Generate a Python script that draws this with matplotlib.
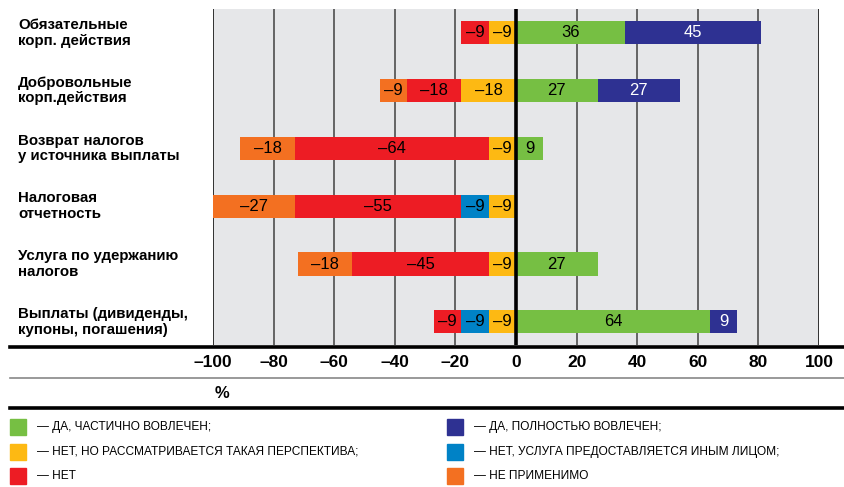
import matplotlib.pyplot as plt
from matplotlib.lines import Line2D
from matplotlib.patches import Rectangle

plt.rcParams['font.family'] = ['Liberation Sans', 'DejaVu Sans']

categories = ['Обязательные\nкорп. действия',
              'Добровольные\nкорп.действия',
              'Возврат налогов\nу источника выплаты',
              'Налоговая\nотчетность',
              'Услуга по удержанию\nналогов',
              'Выплаты (дивиденды,\nкупоны, погашения)']

# negative side, stacked from zero outwards
yes_soon = [-9, -18, -9, -9, -9, -9]      # нет, но рассматривается
other = [0, 0, 0, -9, 0, -9]              # иным лицом
no = [-9, -18, -64, -55, -45, -9]         # нет
n_a = [0, -9, -18, -27, -18, 0]           # не применимо
# positive side
partly = [36, 27, 9, 0, 27, 64]
fully = [45, 27, 0, 0, 0, 9]

xticks = [-100, -80, -60, -40, -20, 0, 20, 40, 60, 80, 100]

c_green = '#76bf43'
c_navy = '#2e3192'
c_yellow = '#fdb913'
c_blue = '#0082c6'
c_red = '#ed1c24'
c_orange = '#f37021'

fig = plt.figure(figsize=(8.44, 4.87), dpi=100)
ax = fig.add_axes([213 / 844, 1 - 345 / 487, 606 / 844, 336 / 487])
ax.set_facecolor('#e6e7e9')

ypos = list(range(len(categories)))
h = 0.4

def stack(series_list, colors, txtcol):
    base = [0] * len(categories)
    for vals, col, tc in zip(series_list, colors, txtcol):
        ax.barh(ypos, vals, left=base, height=h, color=col, zorder=3)
        for i, v in enumerate(vals):
            if v != 0:
                lab = str(v).replace('-', '–')
                ax.text(base[i] + v / 2, i, lab, ha='center', va='center',
                        fontsize=12, color=tc, zorder=4)
        base = [b + v for b, v in zip(base, vals)]

stack([yes_soon, other, no, n_a], [c_yellow, c_blue, c_red, c_orange],
      ['black'] * 4)
stack([partly, fully], [c_green, c_navy], ['black', 'white'])

for x in xticks:
    if x == 0:
        ax.axvline(x, color='black', lw=2.6, zorder=5)
    elif abs(x) == 100:
        ax.axvline(x, color='#222222', lw=1.3, zorder=2)
    else:
        ax.axvline(x, color='#5a5a5a', lw=1.3, zorder=2)

ax.set_xlim(-100, 100)
ax.set_ylim(5.4, -0.41)
ax.set_xticks(xticks)
ax.set_xticklabels([str(x).replace('-', '–') for x in xticks],
                   fontsize=12.5, fontweight='bold')
ax.tick_params(axis='x', length=0, pad=7)
ax.set_yticks([])
for s in ax.spines.values():
    s.set_visible(False)

for i, cat in enumerate(categories):
    yy = ax.transData.transform((0, i))[1]
    fig.text(18 / 844, yy / fig.dpi / 4.87, cat, ha='left', va='center',
             fontsize=10.8, fontweight='bold', linespacing=1.15)

# rules under the axis
fig.add_artist(Line2D([10 / 844, 1], [1 - 346.5 / 487] * 2, color='black', lw=2.6))
fig.add_artist(Line2D([10 / 844, 1], [1 - 378 / 487] * 2, color='#888888', lw=1.2))
fig.add_artist(Line2D([10 / 844, 1], [1 - 407.5 / 487] * 2, color='black', lw=2.6))
fig.text(222 / 844, 1 - 393 / 487, '%', ha='center', va='center',
         fontsize=12, fontweight='bold')

legend_items = [
    (c_green, '— ДА, ЧАСТИЧНО ВОВЛЕЧЕН;', 0, 0),
    (c_yellow, '— НЕТ, НО РАССМАТРИВАЕТСЯ ТАКАЯ ПЕРСПЕКТИВА;', 0, 1),
    (c_red, '— НЕТ', 0, 2),
    (c_navy, '— ДА, ПОЛНОСТЬЮ ВОВЛЕЧЕН;', 1, 0),
    (c_blue, '— НЕТ, УСЛУГА ПРЕДОСТАВЛЯЕТСЯ ИНЫМ ЛИЦОМ;', 1, 1),
    (c_orange, '— НЕ ПРИМЕНИМО', 1, 2),
]
for col, txt, c, r in legend_items:
    x0 = 10 if c == 0 else 447
    yc = 427 + r * 24.5
    fig.add_artist(Rectangle((x0 / 844, 1 - (yc + 8) / 487), 16 / 844, 16 / 487,
                             color=col, transform=fig.transFigure))
    fig.text((x0 + 27) / 844, 1 - yc / 487, txt, ha='left', va='center',
             fontsize=8.6)

fig.savefig('out.png', dpi=100)
